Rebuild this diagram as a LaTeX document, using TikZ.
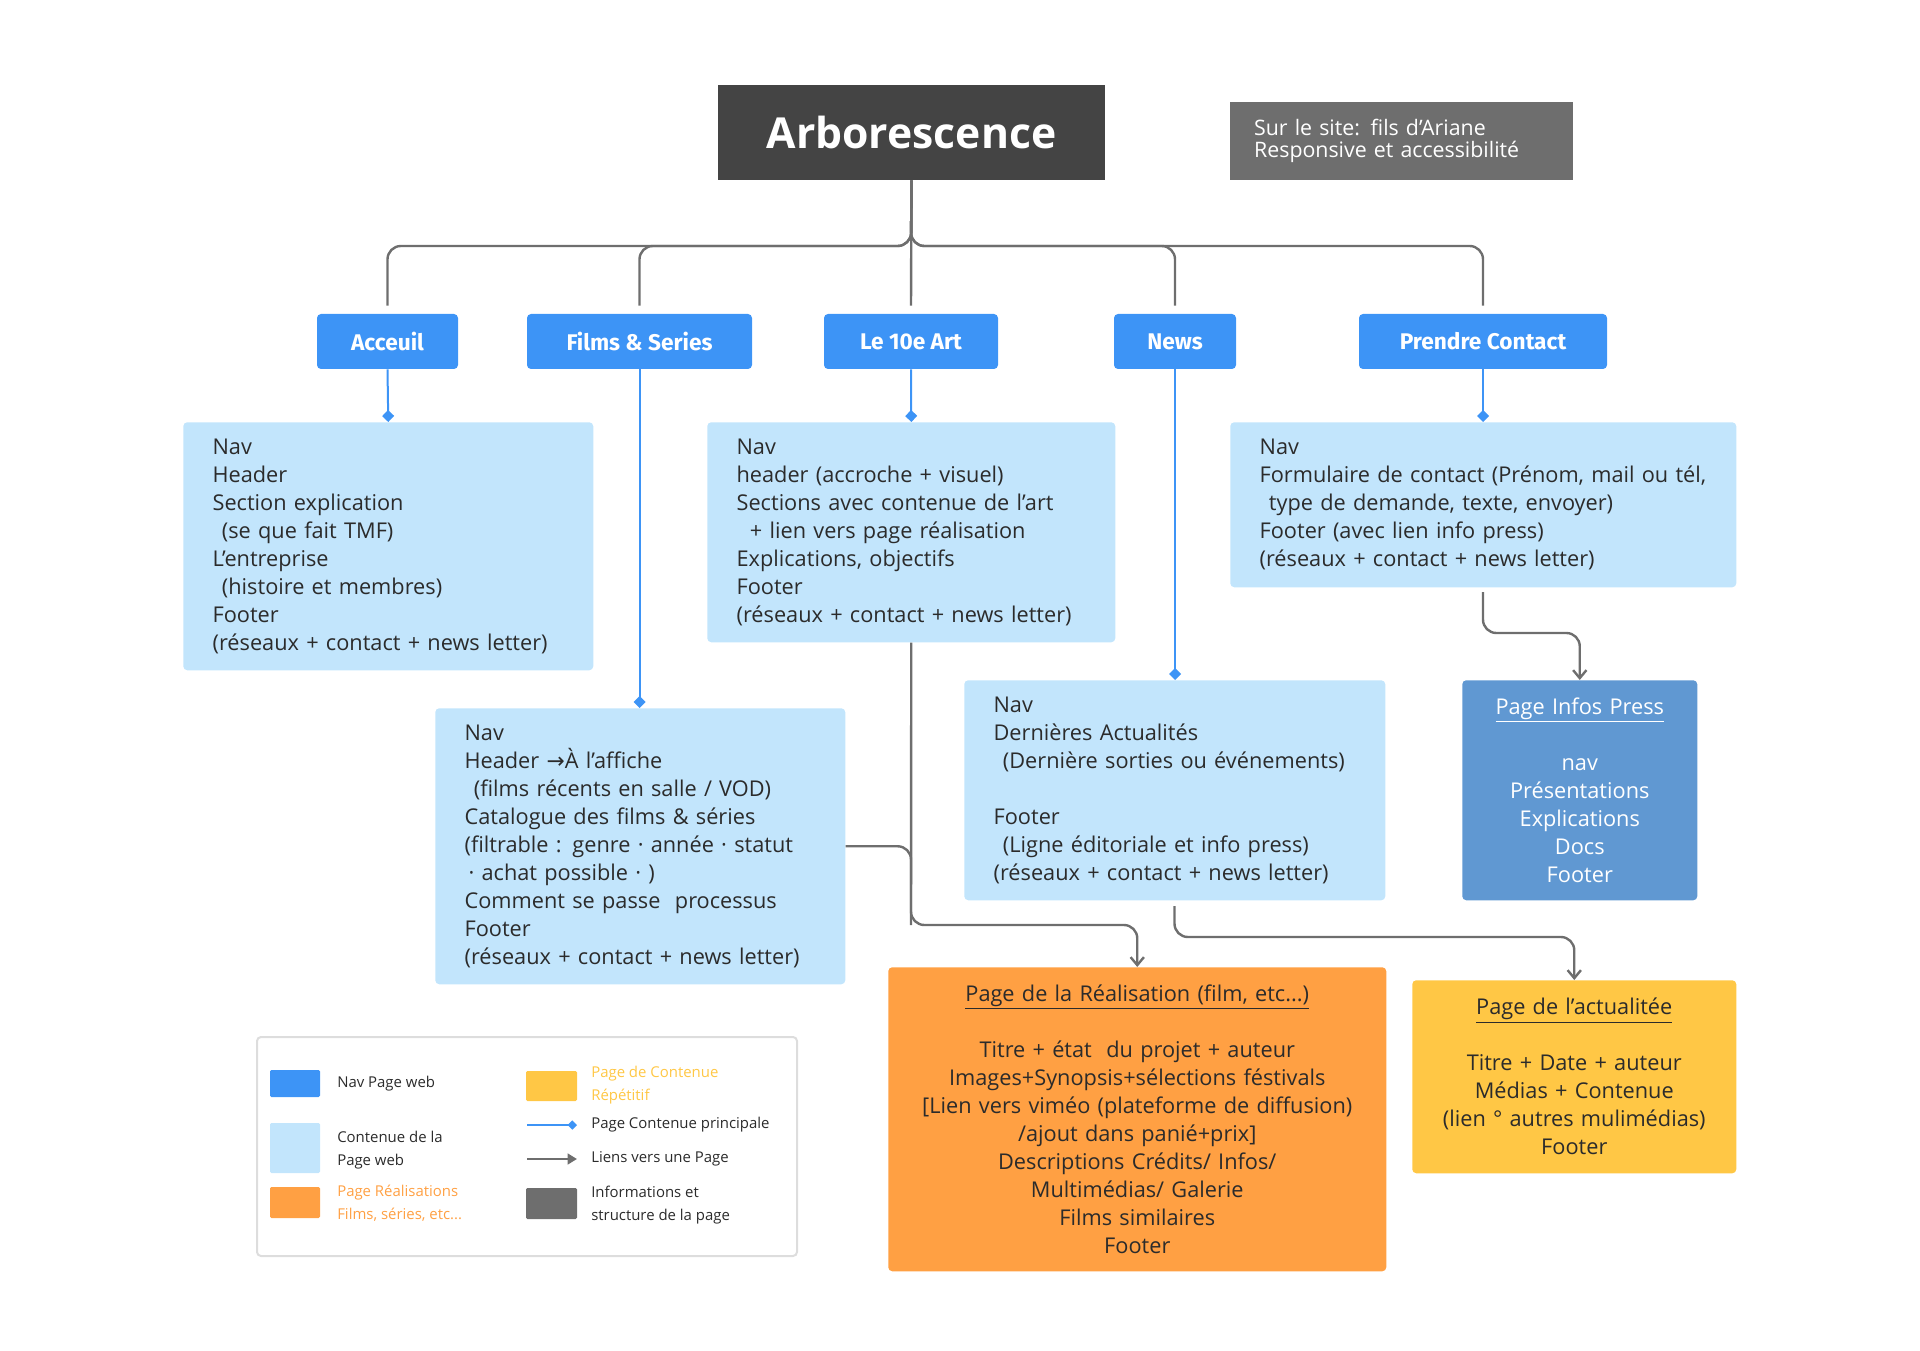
\documentclass[tikz,border=0pt]{standalone}
\usepackage{fontspec}
\setmainfont{Open Sans}
\newfontfamily\btnfont{Fira Sans}
\newfontfamily\arrfont{DejaVu Sans}
\usetikzlibrary{arrows.meta}
\definecolor{navb}{HTML}{3D94F6}
\definecolor{lightb}{HTML}{C2E5FC}
\definecolor{orng}{HTML}{FFA043}
\definecolor{yell}{HTML}{FFC745}
\definecolor{pressb}{HTML}{6098D2}
\definecolor{darkg}{HTML}{444444}
\definecolor{midg}{HTML}{6E6E6E}
\definecolor{txt}{HTML}{2B2B2B}
\definecolor{legb}{HTML}{DDDDDD}
\begin{document}
\begin{tikzpicture}[x=0.75pt,y=-0.75pt,
  btn/.style={fill=navb,rounded corners=3pt,text=white,font=\btnfont\bfseries\fontsize{17}{20}\selectfont,minimum height=41.25pt,inner sep=0pt},
  box/.style={anchor=north west,rounded corners=3pt,inner ysep=0pt,inner xsep=22pt,align=left,text=txt,font=\fontsize{16.3}{21}\selectfont},
  cbox/.style={box,align=center},
  bline/.style={navb,line width=1.5pt,-{Diamond[length=9pt,width=9pt]}},
  trunk/.style={midg,line width=1.8pt,rounded corners=10pt},
  link/.style={midg,line width=1.8pt,rounded corners=10pt,-{Straight Barb[length=6pt,width=10pt]}},
  lg/.style={anchor=west,font=\fontsize{11.2}{17}\selectfont,align=left,inner sep=0pt,text=txt}]
\useasboundingbox (4,0) rectangle (1924,1351);
% title
\node[fill=darkg,text=white,font=\bfseries\fontsize{32}{38}\selectfont,minimum width=290.25pt,minimum height=71.25pt,inner sep=0pt] (title) at (915.5,132.5) {Arborescence};
\node[fill=midg,text=white,font=\fontsize{16}{16.5}\selectfont,align=left,minimum width=257.25pt,minimum height=58.5pt,inner xsep=18pt,text width=221pt] (info) at (1405.5,141) {Sur le site: fils d’Ariane\\Responsive et accessibilité};
% buttons
\node[btn,minimum width=105.75pt] (b1) at (391.5,341.5) {Acceuil};
\node[btn,minimum width=168.75pt] (b2) at (643.5,341.5) {Films \& Series};
\node[btn,minimum width=130.5pt] (b3) at (915,341.5) {Le 10e Art};
\node[btn,minimum width=91.5pt] (b4) at (1179,341.5) {News};
\node[btn,minimum width=186pt] (b5) at (1487,341.5) {Prendre Contact};
% trunk
\draw[trunk] (title.south) -- (915,246) -| ([yshift=6pt]b1.north);
\draw[trunk] (title.south) -- (915,246) -| ([yshift=6pt]b2.north);
\draw[trunk] (title.south) -- ([yshift=6pt]b3.north);
\draw[trunk] (title.south) -- (915,246) -| ([yshift=6pt]b4.north);
\draw[trunk] (title.south) -- (915,246) -| ([yshift=6pt]b5.north);
% content boxes
\node[box,fill=lightb,minimum width=307.5pt,minimum height=186pt,text width=263.5pt] (c1) at (187,422) {Nav\\Header\\Section explication\\\hspace*{7pt}(se que fait TMF)\\L’entreprise\\\hspace*{7pt}(histoire et membres)\\Footer\\(réseaux + contact + news letter)};
\node[box,fill=lightb,minimum width=306pt,minimum height=165pt,text width=262pt] (c3) at (711,422) {Nav\\header (accroche + visuel)\\Sections avec contenue de l’art\\\hspace*{10pt}+ lien vers page réalisation\\Explications, objectifs\\Footer\\(réseaux + contact + news letter)};
\node[box,fill=lightb,minimum width=379.5pt,minimum height=123.75pt,text width=335.5pt] (c5) at (1234,422) {Nav\\Formulaire de contact (Prénom, mail ou tél,\\\hspace*{7pt}type de demande, texte, envoyer)\\Footer (avec lien info press)\\(réseaux + contact + news letter)};
\node[box,fill=lightb,minimum width=307.5pt,minimum height=207pt,text width=263.5pt] (c2) at (439,708) {Nav\\Header {\arrfont →}À l’affiche\\\hspace*{7pt}(films récents en salle / VOD)\\Catalogue des films \& séries\\(filtrable : genre · année · statut\\\hspace*{3pt}· achat possible · )\\Comment se passe\ \ processus\\Footer\\(réseaux + contact + news letter)};
\node[box,fill=lightb,minimum width=315.75pt,minimum height=165pt,text width=271.75pt] (c4) at (968,680) {Nav\\Dernières Actualités\\\hspace*{7pt}(Dernière sorties ou événements)\\[21pt]Footer\\\hspace*{7pt}(Ligne éditoriale et info press)\\(réseaux + contact + news letter)};
\node[cbox,fill=pressb,text=white,minimum width=176.25pt,minimum height=165pt,text width=160pt,inner xsep=8pt] (press) at (1466,680) {\underline{Page Infos Press}\\[21pt]nav\\Présentations\\Explications\\Docs\\Footer};
\node[cbox,fill=orng,minimum width=373.5pt,minimum height=228pt,text width=360pt,inner xsep=6pt] (real) at (892,967) {\underline{Page de la Réalisation (film, etc...)}\\[21pt]Titre + état\ \ du projet + auteur\\Images+Synopsis+sélections féstivals\\{}[Lien vers viméo (plateforme de diffusion)\\/ajout dans panié+prix]\\Descriptions Crédits/ Infos/\\Multimédias/ Galerie\\Films similaires\\Footer};
\node[cbox,fill=yell,minimum width=243pt,minimum height=144.75pt,text width=231pt,inner xsep=6pt] (actu) at (1416,980) {\underline{Page de l’actualitée}\\[21pt]Titre + Date + auteur\\Médias + Contenue\\(lien ° autres mulimédias)\\Footer};
% blue connectors
\draw[bline] (b1.south) -- (c1.north);
\draw[bline] (b2.south) -- (643.5,708);
\draw[bline] (b3.south) -- (c3.north);
\draw[bline] (b4.south) -- (1179,680);
\draw[bline] (b5.south) -- (1487,422);
% gray links
\coordinate (j) at (915,925);
\draw[midg,line width=1.8pt,rounded corners=10pt] (c2.east) -| (j);
\draw[link] (c3.south) -- (j) -| (real.north);
\draw[link] (1178.5,906) -- (1178.5,937) -| (actu.north);
\draw[link] (1487,592) -- (1487,633) -| (press.north);
% legend
\draw[legb,line width=1.5pt,rounded corners=3pt] (261,1037) rectangle (801,1256);
\fill[navb,rounded corners=1pt] (274,1070) rectangle (324,1097);
\fill[lightb,rounded corners=1pt] (274,1123) rectangle (324,1173);
\fill[orng,rounded corners=1pt] (274,1187) rectangle (324,1218);
\fill[yell,rounded corners=1pt] (530,1071) rectangle (581,1101);
\fill[midg,rounded corners=1pt] (530,1188) rectangle (581,1219);
\draw[navb,line width=1.5pt,-{Diamond[length=7pt,width=7pt]}] (531,1125) -- (581,1125);
\draw[midg,line width=1.8pt,-{Triangle[length=7pt,width=8pt]}] (531,1159) -- (581,1159);
\node[lg] (l1) at (341,1084) {Nav Page web};
\node[lg] (l2) at (341,1150) {Contenue de la\\Page web};
\node[lg,text=orng] (l3) at (341,1203) {Page Réalisations\\Films, séries, etc...};
\node[lg,text=yell] (l4) at (595,1085) {Page de Contenue\\Répétitif};
\node[lg] (l5) at (595,1125) {Page Contenue principale};
\node[lg] (l6) at (595,1159) {Liens vers une Page};
\node[lg] (l7) at (595,1205) {Informations et\\structure de la page};
\end{tikzpicture}
\end{document}
